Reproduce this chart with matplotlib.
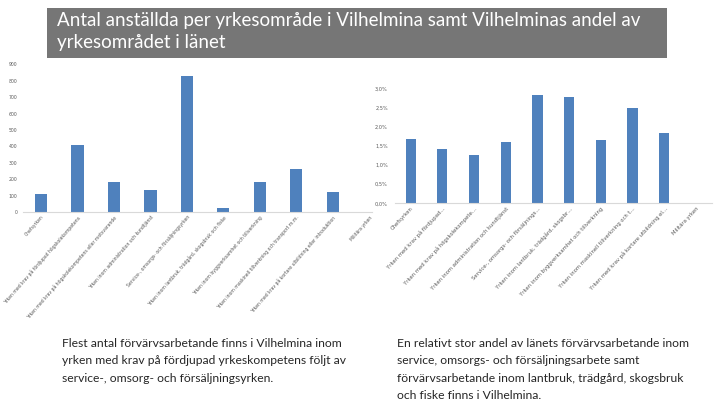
import matplotlib
matplotlib.use("Agg")
import matplotlib.pyplot as plt
from matplotlib.patches import Rectangle

W, H = 720, 405

categories_left = [
    "Chefsyrken",
    "Yrken med krav på fördjupad högskolekompetens",
    "Yrken med krav på högskolekompetens eller motsvarande",
    "Yrken inom administration och kundtjänst",
    "Service-, omsorgs- och försäljningsyrken",
    "Yrken inom lantbruk, trädgård, skogsbruk och fiske",
    "Yrken inom byggverksamhet och tillverkning",
    "Yrken inom maskinell tillverkning och transport m.m.",
    "Yrken med krav på kortare utbildning eller introduktion",
    "Militära yrken",
]
employees = [110, 408, 183, 132, 829, 26, 181, 262, 122, 0]
left_ticks = [0, 100, 200, 300, 400, 500, 600, 700, 800, 900]

categories_right = [
    "Chefsyrken",
    "Yrken med krav på fördjupad…",
    "Yrken med krav på högskolekompete…",
    "Yrken inom administration och kundtjänst",
    "Service-, omsorgs- och försäljnings…",
    "Yrken inom lantbruk, trädgård, skogsbr…",
    "Yrken inom byggverksamhet och tillverkning",
    "Yrken inom maskinell tillverkning och t…",
    "Yrken med krav på kortare utbildning el…",
    "Militära yrken",
]
share = [1.69, 1.43, 1.27, 1.61, 2.84, 2.79, 1.66, 2.50, 1.85, 0.0]
right_ticks = [0.0, 0.5, 1.0, 1.5, 2.0, 2.5, 3.0]

title = "Antal anställda per yrkesområde i Vilhelmina samt Vilhelminas andel av\nyrkesområdet i länet"
text_left = ("Flest antal förvärvsarbetande finns i Vilhelmina inom\n"
             "yrken med krav på fördjupad yrkeskompetens följt av\n"
             "service-, omsorg- och försäljningsyrken.")
text_right = ("En relativt stor andel av länets förvärvsarbetande inom\n"
              "service, omsorgs- och försäljningsarbete samt\n"
              "förvärvsarbetande inom lantbruk, trädgård, skogsbruk\n"
              "och fiske finns i Vilhelmina.")

BAR = "#4F81BD"
GRAY_TXT = "#595959"
AXLINE = "#D9D9D9"

fig = plt.figure(figsize=(W / 100, H / 100), dpi=100)
fig.patch.set_facecolor("white")

def rect(x0, y0, x1, y1):
    return [x0 / W, 1 - y1 / H, (x1 - x0) / W, (y1 - y0) / H]

def style(ax):
    for s in ["top", "right", "left"]:
        ax.spines[s].set_visible(False)
    ax.spines["bottom"].set_color(AXLINE)
    ax.spines["bottom"].set_linewidth(0.8)
    ax.tick_params(length=0, colors=GRAY_TXT)

# Left chart
axl = fig.add_axes(rect(22.75, 64.3, 372, 212))
xl = list(range(len(categories_left)))
axl.bar(xl, employees, width=0.33, color=BAR)
axl.set_xlim(-0.5, 9.07)
axl.set_ylim(0, 900)
axl.set_yticks(left_ticks)
axl.set_yticklabels([str(t) for t in left_ticks], fontsize=3.3)
axl.set_xticks(xl)
axl.set_xticklabels(categories_left, rotation=49, ha="right",
                    rotation_mode="anchor", fontsize=3.3)
axl.tick_params(axis="x", pad=2)
axl.tick_params(axis="y", pad=4)
style(axl)
axl.patch.set_alpha(0)

# Right chart
axr = fig.add_axes(rect(394.8, 89, 711.8, 203.3))
xr = list(range(len(categories_right)))
axr.bar(xr, share, width=0.32, color=BAR)
axr.set_xlim(-0.5, 9.5)
axr.set_ylim(0, 3.0)
axr.set_yticks(right_ticks)
axr.set_yticklabels([f"{t:.1f}%".replace(".", ",") for t in right_ticks], fontsize=3.6)
axr.set_xticks(xr)
axr.set_xticklabels(categories_right, rotation=47, ha="right",
                    rotation_mode="anchor", fontsize=3.8)
axr.tick_params(axis="x", pad=2)
axr.tick_params(axis="y", pad=5)
style(axr)
axr.patch.set_alpha(0)

# Title box
fig.patches.append(Rectangle((47 / W, 1 - 58 / H), (667 - 47) / W, 50 / H,
                             transform=fig.transFigure, facecolor="#767676",
                             edgecolor="none", zorder=0))
fig.text(57 / W, 1 - 12 / H, title, color="white", fontsize=13.5,
         family="Lato", va="top", ha="left", linespacing=1.33)

fig.text(62 / W, 1 - 338 / H, text_left, color="#262626", fontsize=8.7,
         family="Lato", va="top", ha="left", linespacing=1.7)
fig.text(397 / W, 1 - 338 / H, text_right, color="#262626", fontsize=8.7,
         family="Lato", va="top", ha="left", linespacing=1.7)

fig.savefig("out.png", dpi=100, facecolor="white")
